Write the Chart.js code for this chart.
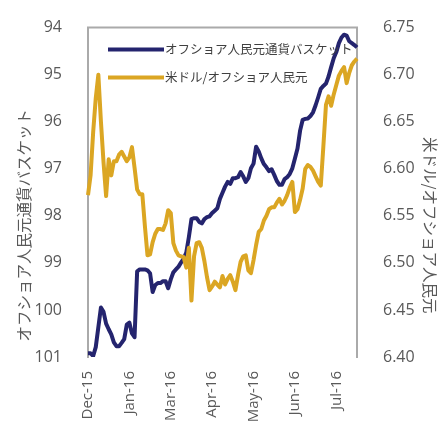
<!DOCTYPE html>
<html><head><meta charset="utf-8">
<script src="https://cdn.jsdelivr.net/npm/chart.js@4.4.1/dist/chart.umd.min.js"></script>
<style>html,body{margin:0;padding:0;background:#fff;}#wrap{width:440px;height:421px;position:relative;overflow:hidden;}</style>
</head><body><div id="wrap"><canvas id="c" width="440" height="421"></canvas></div>
<script>
// ---- data ----
const tickLabels = ['Dec-15','Jan-16','Mar-16','Apr-16','May-16','Jun-16','Jul-16'];
const pointsPerTick = 16;
const seriesNames = ['オフショア人民元通貨バスケット', '米ドル/オフショア人民元'];
const leftTitle = 'オフショア人民元通貨バスケット';
const rightTitle = '米ドル/オフショア人民元';
const leftTicks = [94, 95, 96, 97, 98, 99, 100, 101];
const rightTicks = [6.40, 6.45, 6.50, 6.55, 6.60, 6.65, 6.70, 6.75];

const basketIndex = [
100.92,100.92,100.98,100.79,100.37,99.95,100.04,100.29,100.41,100.52,
100.69,100.77,100.77,100.70,100.62,100.31,100.27,100.50,100.58,99.18,
99.14,99.14,99.14,99.16,99.22,99.62,99.47,99.43,99.43,99.39,
99.39,99.54,99.35,99.20,99.14,99.08,98.99,98.91,98.78,98.45,
98.07,98.05,98.05,98.13,98.16,98.07,98.03,98.01,97.94,97.89,
97.84,97.64,97.51,97.38,97.28,97.32,97.20,97.20,97.18,97.07,
97.16,97.28,97.20,96.99,96.89,96.53,96.63,96.78,96.90,96.97,
97.05,97.01,97.13,97.26,97.34,97.34,97.22,97.18,97.11,96.99,
96.78,96.57,96.19,95.96,95.94,95.93,95.88,95.80,95.65,95.48,
95.30,95.24,95.19,95.04,94.84,94.65,94.52,94.33,94.21,94.15,
94.17,94.29,94.33,94.37,94.42
];
const usdCnh = [
6.572,6.593,6.639,6.675,6.700,6.650,6.607,6.571,6.610,6.593,
6.608,6.608,6.615,6.618,6.613,6.608,6.612,6.623,6.601,6.578,
6.573,6.573,6.539,6.508,6.509,6.522,6.531,6.536,6.536,6.535,
6.542,6.556,6.553,6.521,6.513,6.508,6.507,6.506,6.495,6.516,
6.460,6.507,6.521,6.522,6.516,6.502,6.485,6.471,6.475,6.480,
6.477,6.474,6.486,6.477,6.483,6.487,6.480,6.471,6.487,6.501,
6.507,6.508,6.492,6.489,6.503,6.519,6.533,6.536,6.545,6.550,
6.557,6.559,6.559,6.564,6.568,6.562,6.566,6.572,6.580,6.586,
6.554,6.557,6.567,6.579,6.600,6.604,6.602,6.598,6.592,6.586,
6.582,6.624,6.668,6.677,6.667,6.679,6.689,6.699,6.704,6.708,
6.691,6.702,6.710,6.714,6.717
];

// category labels built from tick labels
const categories = basketIndex.map((_, i) =>
  (i % pointsPerTick === 0 && tickLabels[i / pointsPerTick]) ? tickLabels[i / pointsPerTick] : '');

const NAVY = '#24246e';
const GOLD = '#dba623';
const FRAME = '#aaaaaa';
const TXT = '#595959';
const FONT = "'Open Sans', 'Noto Sans', sans-serif";
const CJK = "'Noto Sans CJK JP', sans-serif";

const extras = {
  id: 'extras',
  beforeDatasetsDraw(chart) {
    const {ctx, chartArea: a} = chart;
    ctx.save();
    ctx.strokeStyle = FRAME; ctx.lineWidth = 2;
    ctx.beginPath(); ctx.moveTo(a.left - 1, a.top); ctx.lineTo(a.right + 1, a.top); ctx.stroke();
    ctx.restore();
  },
  afterDraw(chart) {
    const {ctx, chartArea: a} = chart;
    ctx.save();
    // axis titles
    ctx.fillStyle = TXT;
    ctx.font = "15.5px " + CJK;
    ctx.textAlign = 'center'; ctx.textBaseline = 'middle';
    const cy = (a.top + a.bottom) / 2 + 33;
    ctx.save(); ctx.translate(24, cy); ctx.rotate(-Math.PI / 2); ctx.fillText(leftTitle, 0, 0); ctx.restore();
    ctx.save(); ctx.translate(430, cy); ctx.rotate(Math.PI / 2); ctx.fillText(rightTitle, 0, 0); ctx.restore();
    // legend
    const colors = [NAVY, GOLD];
    ctx.font = "12.5px " + CJK;
    ctx.textAlign = 'left';
    seriesNames.forEach((n, k) => {
      const y = a.top + 22 + k * 28;
      ctx.strokeStyle = colors[k]; ctx.lineWidth = 4; ctx.lineCap = 'butt';
      ctx.beginPath(); ctx.moveTo(a.left + 20, y); ctx.lineTo(a.left + 76, y); ctx.stroke();
      ctx.fillStyle = '#404040';
      ctx.fillText(n, a.left + 77, y);
    });
    ctx.restore();
  }
};

new Chart(document.getElementById('c'), {
  type: 'line',
  data: {
    labels: categories,
    datasets: [
      { label: seriesNames[0], data: basketIndex, yAxisID: 'yL', borderColor: NAVY, borderWidth: 4,
        pointRadius: 0, tension: 0, order: 2, borderJoinStyle: 'round' },
      { label: seriesNames[1], data: usdCnh, yAxisID: 'yR', borderColor: GOLD, borderWidth: 4,
        pointRadius: 0, tension: 0, order: 1, borderJoinStyle: 'round' }
    ]
  },
  options: {
    responsive: false, animation: false, devicePixelRatio: 1,
    layout: { padding: { top: 22, left: 0, right: 0, bottom: 0 } },
    plugins: { legend: { display: false }, tooltip: { enabled: false } },
    scales: {
      x: {
        type: 'category', offset: false,
        grid: { display: false }, border: { display: false },
        ticks: { autoSkip: false, minRotation: 90, maxRotation: 90, padding: 6,
                 color: TXT, font: { family: FONT, size: 15 } },
        afterFit: s => { s.height = 64; }
      },
      yL: {
        position: 'left', reverse: true, min: 94, max: 101,
        afterBuildTicks: s => { s.ticks = leftTicks.map(v => ({ value: v })); },
        grid: { display: false }, border: { display: true, color: FRAME, width: 2 },
        ticks: { padding: 18, color: TXT, font: { family: FONT, size: 16 } },
        afterFit: s => { s.width = 88; }
      },
      yR: {
        position: 'right', min: 6.40, max: 6.75,
        afterBuildTicks: s => { s.ticks = rightTicks.map(v => ({ value: v })); },
        grid: { display: false }, border: { display: true, color: FRAME, width: 2 },
        ticks: { padding: 18, color: TXT, font: { family: FONT, size: 16 },
                 callback: v => Number(v).toFixed(2) },
        afterFit: s => { s.width = 83; }
      }
    }
  },
  plugins: [extras]
});
</script></body></html>
